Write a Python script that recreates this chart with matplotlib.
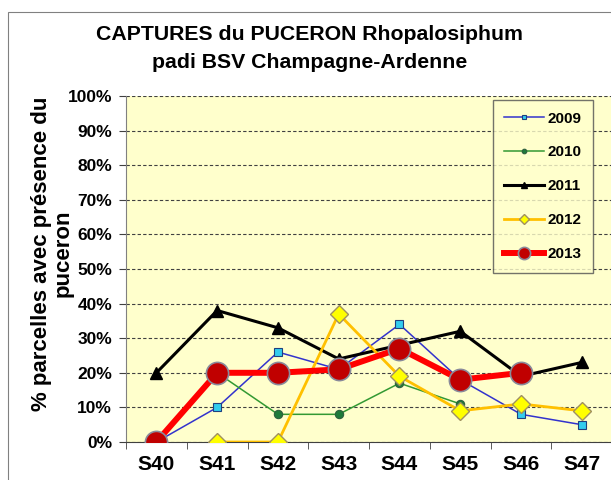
#!/usr/bin/env python3
"""Captures du puceron Rhopalosiphum padi - BSV Champagne-Ardenne."""
import matplotlib

matplotlib.use("Agg")
import matplotlib.pyplot as plt
import numpy as np
from matplotlib.patches import Rectangle
from matplotlib.ticker import FixedLocator, PercentFormatter

plt.rcParams["font.family"] = ["Liberation Sans", "DejaVu Sans"]

WEEKS = ["S40", "S41", "S42", "S43", "S44", "S45", "S46", "S47"]
Y2009 = [0, 10, 26, 21, 34, 18, 8, 5]
Y2010 = [None, 20, 8, 8, 17, 11, None, None]
Y2011 = [20, 38, 33, 24, 28, 32, 19, 23]
Y2012 = [None, 0, 0, 37, 19, 9, 11, 9]
Y2013 = [0, 20, 20, 21, 27, 18, 20, None]

BG = "#FFFFCC"


def arr(vals):
    return np.array([np.nan if v is None else v for v in vals], dtype=float)


def main():
    fig = plt.figure(figsize=(6.11, 4.80), dpi=100)
    # outer chart frame (cropped on right / bottom)
    fig.patches.append(Rectangle((8 / 611, -0.1), 1.2, (480 - 12) / 480 + 0.1,
                                 transform=fig.transFigure, fill=False,
                                 edgecolor="#808080", lw=0.8))

    ax = fig.add_axes([126 / 611, (480 - 442) / 480, 1 - 126 / 611 + 0.002,
                       (442 - 96) / 480])
    ax.set_facecolor(BG)
    x = np.arange(len(WEEKS))

    ax.plot(x, arr(Y2009), color="#3333CC", lw=1.1, marker="s", ms=6,
            mfc="#33CCEE", mec="#1F3F7F", mew=0.8, label="2009", zorder=3)
    ax.plot(x, arr(Y2010), color="#339933", lw=1.1, marker="o", ms=6,
            mfc="#1E7A3A", mec="#2F5F3F", mew=0.8, label="2010", zorder=4)
    ax.plot(x, arr(Y2011), color="black", lw=2.2, marker="^", ms=9,
            mfc="black", mec="black", label="2011", zorder=5)
    ax.plot(x, arr(Y2012), color="#FFC000", lw=2.0, marker="D", ms=9,
            mfc="#FFFF00", mec="#A09060", mew=1.0, label="2012", zorder=6)
    ax.plot(x, arr(Y2013), color="#FF0000", lw=4.3, marker="o", ms=16,
            mfc="#C00000", mec="#8A8A9A", mew=1.2, label="2013", zorder=7)

    ax.set_xlim(-0.5, len(WEEKS) - 0.5)
    ax.set_ylim(0, 100)
    ax.set_xticks(x)
    ax.set_xticklabels(WEEKS, fontsize=15, fontweight="bold")
    ax.xaxis.set_minor_locator(FixedLocator(np.arange(-0.5, len(WEEKS), 1.0)))
    ax.tick_params(axis="x", which="major", length=0, pad=9)
    ax.tick_params(axis="x", which="minor", length=5, direction="out",
                   color="#404040")
    ax.set_yticks(np.arange(0, 101, 10))
    ax.yaxis.set_major_formatter(PercentFormatter(decimals=0))
    ax.tick_params(axis="y", length=5, direction="out", color="#404040",
                   labelsize=12.5, pad=5)
    for lab in ax.get_yticklabels():
        lab.set_fontweight("bold")
    ax.yaxis.grid(True, ls=(0, (3, 2)), color="#404040", lw=0.8)
    ax.set_axisbelow(True)
    for side in ("top", "right"):
        ax.spines[side].set_visible(False)
    ax.spines["left"].set_color("#808080")
    ax.spines["bottom"].set_color("#404040")

    ax.set_ylabel("% parcelles avec présence du\npuceron", fontsize=16,
                  fontweight="bold", linespacing=1.0)
    ax.yaxis.set_label_coords(-0.108, 0.545)

    leg = ax.legend(loc="upper right", bbox_to_anchor=(0.977, 1.01),
                    fontsize=11, handlelength=2.6, labelspacing=1.3,
                    borderpad=0.75, handletextpad=0.25, frameon=True,
                    fancybox=False, facecolor=BG, edgecolor="#505050",
                    markerscale=0.55)
    leg.get_frame().set_linewidth(1.0)
    for t in leg.get_texts():
        t.set_fontweight("bold")

    fig.text(310 / 611, 1 - 35 / 480, "CAPTURES du PUCERON Rhopalosiphum",
             ha="center", va="center", fontsize=15.3, fontweight="bold")
    fig.text(310 / 611, 1 - 62 / 480, "padi BSV Champagne-Ardenne",
             ha="center", va="center", fontsize=15.3, fontweight="bold")

    fig.savefig("out.png", dpi=100)


if __name__ == "__main__":
    main()
